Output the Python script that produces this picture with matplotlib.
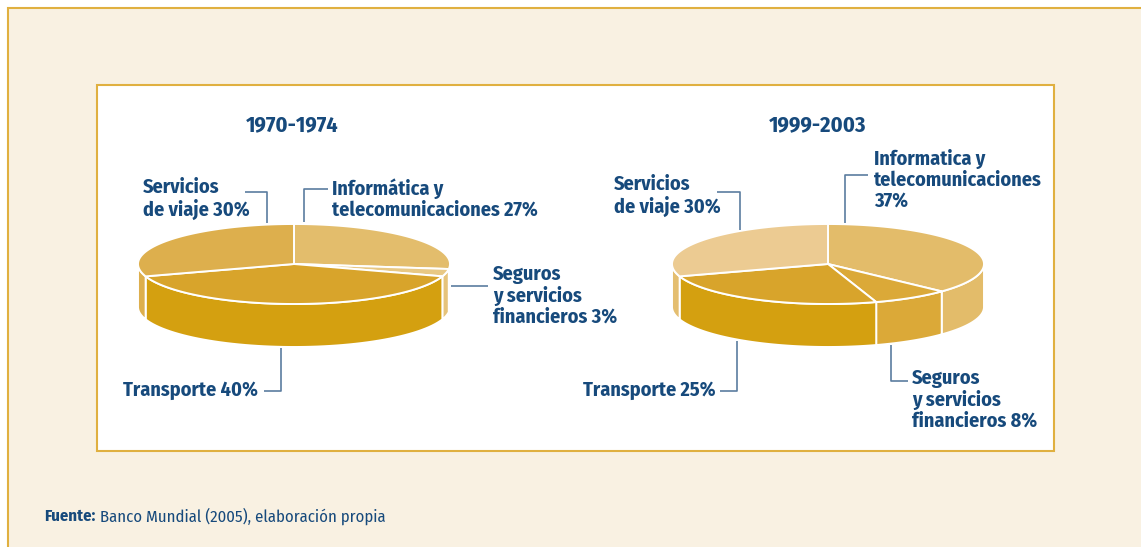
import numpy as np
import matplotlib.pyplot as plt
from matplotlib.patches import Polygon, Rectangle

# ── Data ──────────────────────────────────────────────────────────────────────
periods = ['1970-1974', '1999-2003']
categories = ['Informática', 'Seguros', 'Transporte', 'Servicios']
shares_1970 = [27, 3, 40, 30]
shares_1999 = [37, 8, 25, 30]

labels_1970 = ['Informática y\ntelecomunicaciones 27%',
               'Seguros\ny servicios\nfinancieros 3%',
               'Transporte 40%',
               'Servicios\nde viaje 30%']
labels_1999 = ['Informatica y\ntelecomunicaciones\n37%',
               'Seguros\ny servicios\nfinancieros 8%',
               'Transporte 25%',
               'Servicios\nde viaje 30%']

# top / side colours per slice
top_1970 = ['#E3BD6C', '#E8C884', '#D8A42B', '#DDAF4D']
side_1970 = ['#E3BD6C', '#E6C37A', '#D4A010', '#DDAF4D']
top_1999 = ['#E3BC6A', '#DBA938', '#D8A42B', '#ECCB92']
side_1999 = ['#E3BC6A', '#DBA938', '#D4A010', '#E4BE70']

W, H = 1141, 547
TXT = '#174A7C'
LEAD = '#5B7DA0'
GOLD = '#E0B040'
CREAM = '#F9F1E2'
FONT = ['Fira Sans Condensed', 'Liberation Sans', 'DejaVu Sans']

RX, RY, DEPTH = 156, 40, 43


def ell(cx, cy, t):
    r = np.radians(t)
    return np.column_stack([cx + RX * np.cos(r), cy - RY * np.sin(r)])


def pie3d(ax, cx, cy, shares, tops, sides):
    total = float(sum(shares))
    start = 90.0
    bounds = []
    for v in shares:
        end = start - v / total * 360.0
        bounds.append((start, end))
        start = end
    # side walls (front half only)
    for (s, e), c in zip(bounds, sides):
        hi, lo = min(s, 0.0), max(e, -180.0)
        if hi <= lo:
            continue
        t = np.linspace(hi, lo, 60)
        top = ell(cx, cy, t)
        bot = top.copy()
        bot[:, 1] += DEPTH
        pts = np.vstack([top, bot[::-1]])
        ax.add_patch(Polygon(pts, closed=True, facecolor=c, edgecolor='white',
                             linewidth=1.4, joinstyle='round', zorder=2))
    # top wedges
    for (s, e), c in zip(bounds, tops):
        t = np.linspace(s, e, max(int(abs(s - e)), 4))
        pts = np.vstack([[cx, cy], ell(cx, cy, t)])
        ax.add_patch(Polygon(pts, closed=True, facecolor=c, edgecolor='white',
                             linewidth=1.4, joinstyle='round', zorder=3))


def leader(ax, xs, ys):
    ax.plot(xs, ys, color=LEAD, linewidth=1.2, zorder=4, solid_capstyle='butt')


def label(ax, x, y, s, ha='left'):
    ax.text(x, y, s, ha=ha, va='center', color=TXT, fontsize=14.5,
            fontweight='bold', family=FONT, linespacing=1.1, zorder=5)


fig = plt.figure(figsize=(W / 100, H / 100), dpi=100)
ax = fig.add_axes([0, 0, 1, 1])
ax.set_xlim(0, W)
ax.set_ylim(H, 0)
ax.axis('off')

# frames (outer one runs off the right and bottom edges)
ax.add_patch(Rectangle((8, 8), W + 100, H + 100, facecolor=CREAM, edgecolor=GOLD,
                       linewidth=1.5, zorder=0))
ax.add_patch(Rectangle((97, 85), 957, 366, facecolor='white', edgecolor=GOLD,
                       linewidth=1.5, zorder=1))

# ── Left pie ──────────────────────────────────────────────────────────────────
pie3d(ax, 294, 264, shares_1970, top_1970, side_1970)
ax.text(292, 125, periods[0], ha='center', va='center', color=TXT, fontsize=16,
        fontweight='bold', family=FONT)
leader(ax, [245, 267, 267], [192, 192, 223])
label(ax, 143, 199, labels_1970[3])
leader(ax, [304, 304, 328], [222, 189, 189])
label(ax, 332, 199, labels_1970[0])
leader(ax, [451, 488], [286, 286])
label(ax, 493, 296, labels_1970[1])
leader(ax, [281, 281, 264], [348, 391, 391])
label(ax, 258, 390, labels_1970[2], ha='right')

# ── Right pie ─────────────────────────────────────────────────────────────────
pie3d(ax, 828, 264, shares_1999, top_1999, side_1999)
ax.text(818, 125, periods[1], ha='center', va='center', color=TXT, fontsize=16,
        fontweight='bold', family=FONT)
leader(ax, [717, 740, 740], [192, 192, 230])
label(ax, 614, 196, labels_1999[3])
leader(ax, [845, 845, 868], [223, 175, 175])
label(ax, 874, 180, labels_1999[0])
leader(ax, [891, 891, 908], [345, 381, 381])
label(ax, 912, 400, labels_1999[1])
leader(ax, [737, 737, 720], [341, 391, 391])
label(ax, 716, 390, labels_1999[2], ha='right')

# source
ax.text(44, 516, 'Fuente:', ha='left', va='center', color=TXT, fontsize=12,
        fontweight='bold', family=FONT)
ax.text(100, 516, 'Banco Mundial (2005), elaboración propia', ha='left', va='center',
        color=TXT, fontsize=12, family=FONT)

fig.savefig('out.png', dpi=100)
